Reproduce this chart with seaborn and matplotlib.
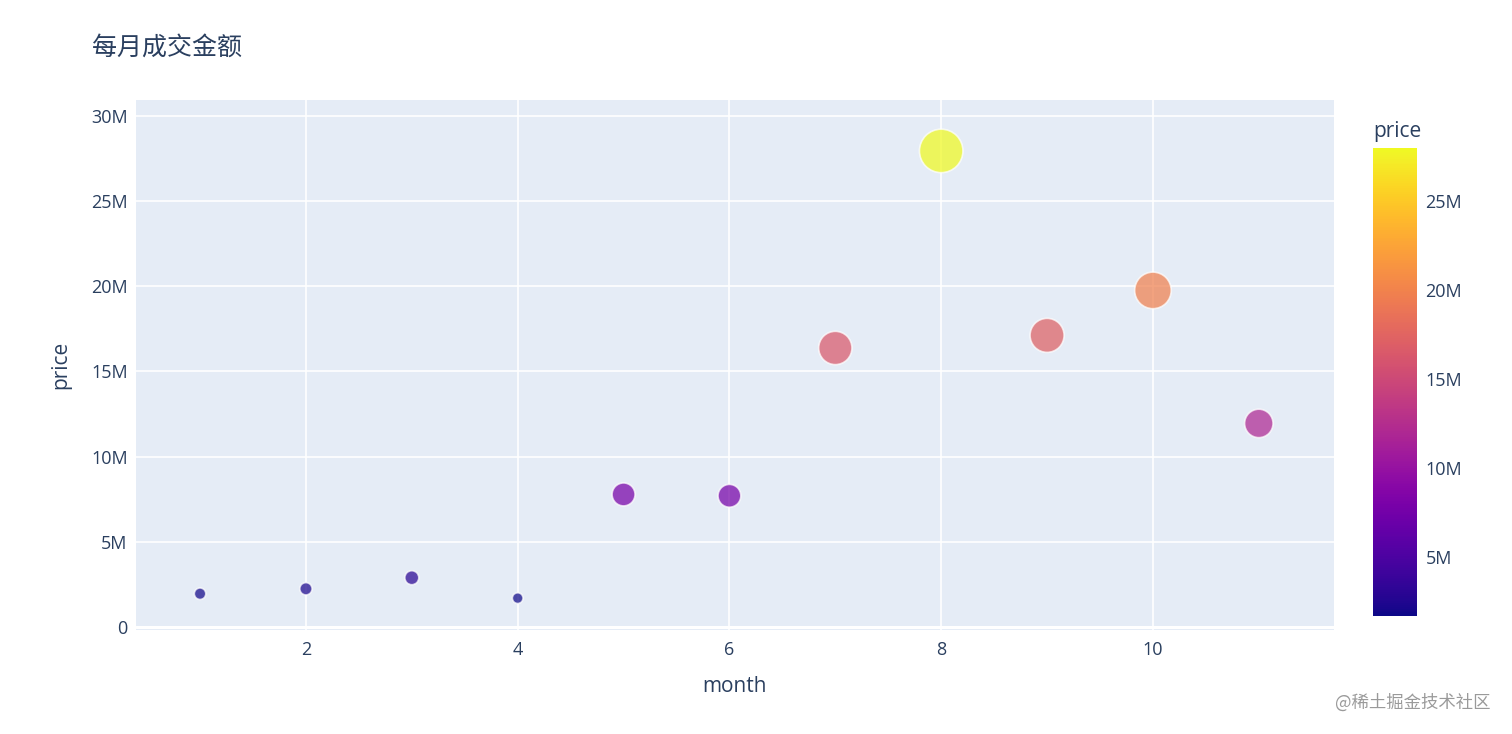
import numpy as np
import pandas as pd
import matplotlib
matplotlib.use("Agg")
import matplotlib.pyplot as plt
import matplotlib.ticker as mticker
import seaborn as sns

months = [1, 2, 3, 4, 5, 6, 7, 8, 9, 10, 11]
price = [1.95e6, 2.24e6, 2.89e6, 1.69e6, 7.78e6, 7.70e6, 16.38e6, 27.95e6, 17.12e6, 19.76e6, 11.95e6]
y_ticks = [0, 5e6, 10e6, 15e6, 20e6, 25e6, 30e6]
y_labels = ["0", "5M", "10M", "15M", "20M", "25M", "30M"]
x_ticks = [2, 4, 6, 8, 10]
cbar_ticks = [5e6, 10e6, 15e6, 20e6, 25e6]
cbar_labels = ["5M", "10M", "15M", "20M", "25M"]

df = pd.DataFrame({"month": months, "price": price})

sns.set_style("darkgrid")
plt.rcParams["font.family"] = ["Open Sans", "Noto Sans CJK SC", "DejaVu Sans"]
txt = "#2a3f5f"
bg = "#e5ecf6"

fig = plt.figure(figsize=(15.12, 7.34), dpi=100)
ax = fig.add_axes([136 / 1512, 1 - 630 / 734, (1334 - 136) / 1512, 530 / 734])
ax.set_facecolor(bg)

pmin, pmax = min(price), max(price)
sns.scatterplot(data=df, x="month", y="price", hue="price", size="price",
                palette="plasma", hue_norm=(pmin, pmax),
                sizes=(0, 980), size_norm=(0, pmax),
                alpha=0.72, edgecolor="white", linewidth=1.2,
                legend=False, ax=ax, zorder=3)

ax.set_xlim(0.395, 11.71)
ax.set_ylim(-0.18e6, 30.94e6)
ax.set_xticks(x_ticks)
ax.set_xticklabels([str(t) for t in x_ticks])
ax.set_yticks(y_ticks)
ax.set_yticklabels(y_labels)
ax.grid(True, color="white", linewidth=1.2)
ax.axhline(0, color="white", linewidth=2.2, zorder=1)
for s in ax.spines.values():
    s.set_visible(False)
ax.tick_params(axis="both", colors=txt, labelsize=13, length=0, pad=6)
ax.tick_params(axis="x", pad=8)
ax.set_xlabel("month", fontsize=15, color=txt, labelpad=12)
ax.set_ylabel("price", fontsize=15, color=txt, labelpad=14)

# colorbar
cax = fig.add_axes([1373 / 1512, 1 - 616 / 734, 44 / 1512, 468 / 734])
sm = plt.cm.ScalarMappable(cmap="plasma", norm=plt.Normalize(pmin, pmax))
cb = fig.colorbar(sm, cax=cax)
cb.outline.set_visible(False)
cb.set_ticks(cbar_ticks)
cb.set_ticklabels(cbar_labels)
cax.tick_params(colors=txt, labelsize=13, length=0, pad=6)
cax.set_title("price", fontsize=15, color=txt, loc="left", pad=8)

fig.text(92 / 1512, 1 - 48 / 734, "每月成交金额", fontsize=18, color=txt,
         va="center", ha="left", family=["Noto Sans CJK SC", "DejaVu Sans"])
fig.text(1490 / 1512, 1 - 703 / 734, "@稀土掘金技术社区", fontsize=12.5, color="#9a9a9a",
         va="center", ha="right", family=["Noto Sans CJK SC", "DejaVu Sans"])

fig.savefig("out.png", dpi=100, facecolor="white")
